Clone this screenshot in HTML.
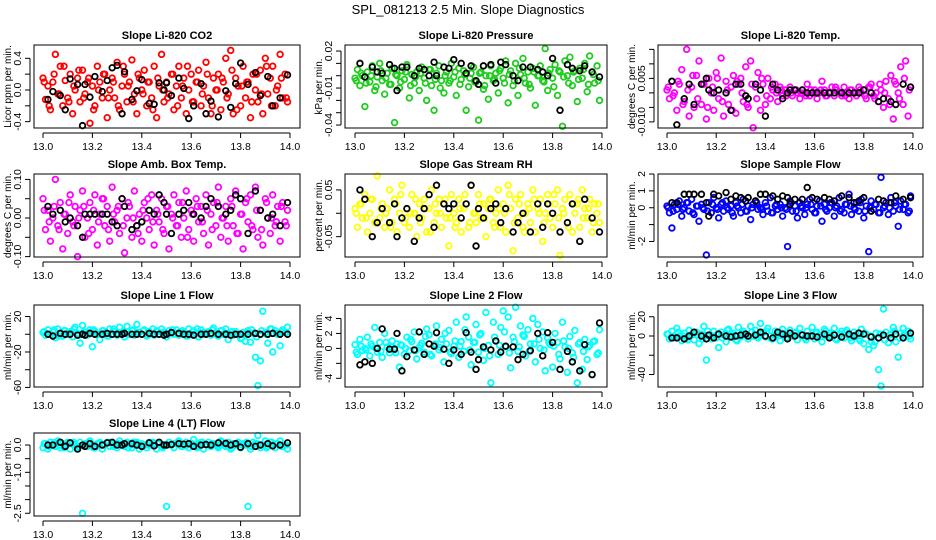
<!DOCTYPE html>
<html><head><meta charset="utf-8"><style>
html,body{margin:0;padding:0;background:#fff;}
svg{display:block;font-family:"Liberation Sans",Arial,sans-serif;}
</style></head><body>
<svg id="fig" width="936" height="540" viewBox="0 0 936 540" xmlns="http://www.w3.org/2000/svg">
<rect width="936" height="540" fill="#fff"/>
<text x="468" y="14" text-anchor="middle" font-size="13">SPL_081213  2.5 Min. Slope Diagnostics</text>
</svg>
<script>
// time values (hours) for colored and black series
const timesColor=[13.00,13.01,13.02,13.03,13.04,13.05,13.06,13.07,13.08,13.09,13.10,13.11,13.12,13.13,13.14,13.15,13.16,13.17,13.18,13.19,13.20,13.21,13.22,13.23,13.24,13.25,13.26,13.27,13.28,13.29,13.30,13.31,13.32,13.33,13.34,13.35,13.36,13.37,13.38,13.39,13.40,13.41,13.42,13.43,13.44,13.45,13.46,13.47,13.48,13.49,13.50,13.51,13.52,13.53,13.54,13.55,13.56,13.57,13.58,13.59,13.60,13.61,13.62,13.63,13.64,13.65,13.66,13.67,13.68,13.69,13.70,13.71,13.72,13.73,13.74,13.75,13.76,13.77,13.78,13.79,13.80,13.81,13.82,13.83,13.84,13.85,13.86,13.87,13.88,13.89,13.90,13.91,13.92,13.93,13.94,13.95,13.96,13.97,13.98,13.99];
const timesColor2=[13.005,13.025,13.045,13.065,13.085,13.105,13.125,13.145,13.165,13.185,13.205,13.225,13.245,13.265,13.285,13.305,13.325,13.345,13.365,13.385,13.405,13.425,13.445,13.465,13.485,13.505,13.525,13.545,13.565,13.585,13.605,13.625,13.645,13.665,13.685,13.705,13.725,13.745,13.765,13.785,13.805,13.825,13.845,13.865,13.885,13.905,13.925,13.945,13.965,13.985];
const timesBlack=[13.02,13.04,13.07,13.09,13.11,13.14,13.16,13.17,13.19,13.21,13.24,13.26,13.28,13.30,13.32,13.33,13.36,13.38,13.40,13.43,13.45,13.47,13.49,13.50,13.52,13.55,13.57,13.59,13.61,13.64,13.66,13.68,13.71,13.74,13.76,13.78,13.80,13.83,13.86,13.88,13.91,13.93,13.96,13.99];
const xTicks=[13.0,13.2,13.4,13.6,13.8,14.0];
const xTickLabels=["13.0","13.2","13.4","13.6","13.8","14.0"];

const co2Color=[0.15,-0.12,0.05,-0.25,0.1,0.45,-0.05,0.3,-0.2,0.12,-0.1,0.2,-0.3,0.0,0.15,-0.15,0.25,-0.05,0.1,-0.42,0.05,-0.2,0.3,0.1,-0.1,0.2,-0.35,0.0,0.15,-0.1,0.35,-0.25,0.05,0.2,-0.15,0.1,0.38,-0.05,-0.3,0.15,0.0,0.25,-0.2,0.1,-0.1,0.3,-0.35,0.05,0.45,-0.15,0.1,-0.05,0.2,-0.25,0.05,0.3,-0.1,0.15,-0.3,0.0,0.2,-0.15,0.1,0.25,-0.2,0.05,0.35,-0.1,-0.3,0.15,0.0,0.2,-0.25,0.1,0.4,-0.05,0.5,-0.3,0.15,0.05,-0.2,0.3,-0.1,0.1,-0.35,0.2,0.0,-0.15,0.25,-0.3,0.4,-0.05,0.15,0.3,-0.2,0.05,0.45,-0.1,0.2,-0.15];
const co2Color2=[0.1,-0.2,0.2,-0.05,0.3,-0.15,0.05,0.25,-0.1,0.15,-0.25,0.0,0.2,-0.1,0.1,-0.2,0.3,0.05,-0.15,0.2,-0.05,0.1,-0.25,0.15,0.0,-0.1,0.2,-0.2,0.05,0.3,-0.15,0.1,-0.05,0.2,-0.2,0.0,0.15,-0.1,0.25,-0.25,0.05,0.1,-0.15,0.2,-0.05,0.3,-0.2,0.0,0.15,-0.1];
const co2Black=[-0.12,-0.02,-0.07,-0.25,0.14,0.07,-0.45,0.07,-0.09,0.17,-0.02,0.12,0.28,0.31,-0.3,0.23,-0.12,-0.01,0.13,-0.17,-0.18,0.09,0.0,0.09,-0.07,0.15,0.02,-0.36,-0.2,0.08,-0.3,-0.14,-0.34,-0.01,-0.22,0.08,0.34,0.07,0.22,-0.07,0.17,-0.2,-0.1,0.19];
const presColor=[-0.002,0.005,-0.008,0.0,-0.025,0.003,-0.005,0.008,-0.012,-0.001,0.01,-0.004,-0.015,0.002,-0.007,0.006,-0.038,0.0,-0.01,0.004,-0.003,0.009,-0.018,0.001,-0.006,0.003,-0.012,0.007,-0.002,-0.02,0.005,-0.008,-0.028,0.002,0.008,-0.004,-0.014,0.003,-0.006,0.01,-0.001,-0.016,0.006,-0.003,0.004,-0.028,-0.009,0.002,0.007,-0.005,-0.036,0.003,-0.011,0.0,-0.019,0.008,-0.004,0.002,-0.014,0.006,-0.002,0.012,-0.022,0.004,-0.008,0.01,-0.016,0.001,0.014,-0.006,0.003,-0.01,0.006,-0.024,0.0,0.008,-0.004,0.022,-0.012,0.005,-0.002,0.009,-0.016,0.003,-0.041,0.012,0.0,0.015,-0.008,0.004,-0.021,0.006,-0.002,0.01,-0.013,0.016,0.003,-0.006,0.008,-0.02];
const presColor2=[-0.004,0.002,-0.006,0.0,-0.009,0.004,-0.002,-0.007,0.001,-0.005,0.003,-0.008,-0.001,0.002,-0.006,0.005,-0.003,-0.01,0.0,-0.004,0.003,-0.007,0.001,-0.002,-0.005,0.002,-0.008,0.0,-0.003,0.004,-0.006,0.001,-0.004,0.006,-0.002,-0.007,0.003,0.0,-0.005,0.002,-0.009,0.004,-0.001,-0.006,0.003,-0.003,0.005,-0.007,0.001,-0.004];
const presBlack=[0.01,-0.001,0.007,0.003,0.002,0.009,0.006,-0.012,0.007,0.007,0.0,0.006,0.005,0.0,0.011,0.0,0.007,0.006,0.013,0.01,0.002,0.008,-0.004,-0.007,0.008,0.009,-0.006,0.011,0.009,0.0,-0.004,0.007,0.007,0.005,0.003,0.0,0.014,-0.028,0.009,0.006,0.004,0.008,0.003,-0.001];
const tempColor=[0.001,-0.002,0.004,0.0,-0.006,0.003,0.008,-0.003,0.015,-0.008,0.002,-0.005,0.006,0.011,-0.004,0.003,-0.009,0.005,0.0,-0.006,0.007,-0.002,0.012,-0.008,0.004,-0.004,0.002,0.006,-0.007,0.003,0.005,-0.003,0.009,-0.005,0.011,-0.012,0.002,0.007,-0.006,0.003,-0.004,0.005,-0.002,0.001,0.003,-0.003,0.002,-0.001,0.001,0.0,0.002,-0.001,0.001,0.0,-0.002,0.001,0.0,0.003,-0.001,0.0,0.001,-0.002,0.0,0.004,0.001,-0.001,0.0,0.002,-0.001,0.001,0.0,-0.001,0.002,0.0,-0.002,0.001,0.0,-0.001,0.002,0.0,0.001,-0.002,0.002,0.003,-0.001,0.0,-0.003,0.001,-0.005,0.004,-0.002,0.006,-0.009,0.003,0.0,0.009,-0.004,0.011,-0.008,0.002];
const tempColor2=[0.002,-0.001,0.004,-0.004,0.001,0.006,-0.002,0.003,-0.005,0.002,0.005,-0.003,0.001,-0.006,0.004,0.0,-0.004,0.003,-0.002,0.005,-0.001,0.002,0.0,0.001,-0.001,0.0,0.001,0.0,-0.001,0.001,0.0,0.001,-0.001,0.0,0.002,0.0,-0.001,0.001,0.0,0.001,-0.001,0.002,-0.002,0.003,0.0,-0.004,0.004,-0.002,0.005,0.001];
const tempBlack=[0.004,-0.011,-0.002,0.003,-0.004,0.003,0.005,0.001,0.0,0.001,0.0,-0.006,0.003,0.003,-0.001,-0.002,0.003,0.001,-0.008,0.003,0.001,-0.002,0.0,0.001,0.001,0.001,0.0,0.0,0.0,0.0,0.0,0.0,0.0,0.0,0.0,0.0,0.001,0.0,-0.003,-0.002,-0.003,-0.004,0.003,0.002];
const ambColor=[0.05,-0.03,0.02,-0.06,0.0,0.10,-0.02,0.04,-0.08,0.01,-0.04,0.06,-0.01,0.03,-0.10,0.02,0.07,-0.05,0.0,0.04,-0.03,0.06,-0.07,0.01,0.05,-0.02,0.03,-0.06,0.08,-0.01,0.02,-0.04,0.05,-0.09,0.0,0.03,-0.05,0.07,-0.02,0.01,-0.06,0.04,0.0,-0.03,0.06,-0.07,0.02,-0.01,0.05,-0.04,0.03,-0.08,0.01,0.06,-0.02,0.04,-0.05,0.0,0.07,-0.03,0.02,-0.06,0.05,-0.01,0.03,-0.04,0.06,-0.07,0.01,0.04,-0.02,0.08,-0.05,0.0,0.03,-0.06,0.05,-0.02,0.07,-0.04,0.01,-0.08,0.04,-0.01,0.06,-0.03,0.08,-0.05,0.02,-0.07,0.05,0.0,-0.04,0.06,-0.02,0.03,-0.06,0.04,-0.01,0.02];
const ambColor2=[0.02,-0.01,0.03,-0.03,0.01,0.04,-0.02,0.0,0.03,-0.04,0.02,-0.01,0.05,-0.03,0.01,0.03,-0.02,0.04,0.0,-0.04,0.02,0.05,-0.01,0.01,-0.03,0.03,0.0,-0.02,0.04,-0.05,0.01,0.03,-0.01,0.02,-0.03,0.04,0.0,-0.02,0.03,-0.04,0.01,0.05,-0.02,0.02,-0.03,0.04,0.0,-0.01,0.03,-0.02];
const ambBlack=[0.03,0.01,0.02,-0.01,0.0,-0.02,-0.05,0.01,0.01,0.01,0.01,0.01,-0.01,-0.02,0.05,0.03,-0.03,-0.02,-0.01,0.02,0.01,0.06,0.04,0.01,-0.04,0.01,0.02,0.04,0.01,0.0,0.03,0.05,0.03,0.01,0.02,0.06,0.05,-0.04,0.07,0.02,0.0,0.01,-0.02,0.04];
const rhColor=[0.01,-0.03,0.02,-0.01,0.04,-0.04,0.0,0.03,-0.02,0.08,-0.01,0.02,-0.03,0.01,0.05,-0.02,0.03,-0.04,0.0,0.06,-0.02,0.01,-0.03,0.04,0.0,-0.05,0.02,-0.01,0.03,-0.04,0.01,0.05,-0.02,0.0,0.03,-0.03,0.02,-0.01,-0.07,0.04,0.0,-0.02,0.03,-0.04,0.01,0.02,-0.03,0.06,0.0,-0.02,0.04,-0.01,0.02,-0.05,0.01,0.03,-0.02,0.0,0.05,-0.03,0.02,-0.04,0.06,0.01,-0.08,0.03,-0.01,0.04,-0.03,0.0,0.02,-0.02,0.05,-0.04,0.01,0.03,-0.06,0.0,0.04,-0.01,-0.03,0.02,0.05,-0.09,0.01,0.03,-0.02,0.04,-0.04,0.0,0.02,-0.03,0.05,0.01,-0.01,0.03,-0.04,0.02,0.0,-0.02];
const rhColor2=[0.0,0.02,-0.01,0.03,-0.02,0.01,0.0,-0.03,0.02,0.04,-0.01,0.0,0.03,-0.02,0.01,-0.04,0.02,0.0,0.03,-0.01,-0.03,0.01,0.04,-0.02,0.0,0.02,-0.01,0.03,-0.03,0.01,0.0,0.04,-0.02,0.02,-0.04,0.01,0.03,0.0,-0.02,0.02,0.04,-0.01,0.0,-0.03,0.02,0.03,-0.01,0.01,-0.02,0.02];
const rhBlack=[0.05,0.03,-0.05,-0.02,0.01,-0.02,0.02,-0.05,-0.01,0.01,-0.06,-0.01,0.01,0.04,-0.03,0.06,0.02,0.01,0.02,-0.01,0.02,0.06,-0.07,0.01,-0.01,0.01,0.02,-0.02,0.01,-0.04,-0.02,0.0,-0.04,0.02,-0.03,0.02,0.0,-0.04,-0.02,0.02,-0.06,0.03,-0.01,-0.04];
const sampleColor=[0.1,-0.3,-1.2,0.2,-0.1,0.4,-0.5,0.0,0.3,-0.2,0.5,-0.4,0.1,-0.8,0.2,-0.1,-2.8,0.3,-0.3,0.6,0.0,-0.6,0.2,-0.2,0.4,-0.1,0.1,-0.5,0.3,0.0,-0.3,0.5,-0.2,0.1,-0.7,0.2,0.4,-0.1,0.0,-0.4,0.3,-0.2,0.6,-0.3,0.1,-0.1,0.2,-0.5,0.0,-2.3,0.4,-0.2,0.1,-0.6,0.3,0.0,-0.4,0.2,0.5,-0.1,-0.3,0.1,0.4,-0.8,0.2,-0.2,0.0,0.3,-0.5,0.1,0.6,-0.1,-0.3,0.2,0.8,-0.4,0.0,0.3,-0.2,0.5,-0.6,0.1,-2.6,0.4,-0.1,0.2,-0.3,1.8,0.0,0.3,-0.4,0.6,-0.2,0.1,-1.1,0.4,-0.1,0.2,-0.3,0.7];
const sampleColor2=[0.0,-0.2,0.2,-0.1,0.3,-0.3,0.1,0.0,-0.2,0.2,-0.1,0.3,0.0,-0.3,0.1,0.2,-0.2,0.0,0.3,-0.1,0.1,-0.3,0.2,0.0,-0.1,0.3,-0.2,0.1,0.0,0.2,-0.3,0.1,-0.1,0.3,0.0,-0.2,0.2,0.1,-0.1,0.3,-0.2,0.0,0.2,-0.3,0.1,0.0,0.3,-0.1,0.2,-0.2];
const sampleBlack=[0.3,0.3,0.8,0.8,0.8,0.8,0.3,-0.5,0.8,0.7,0.9,0.5,0.7,0.6,0.4,0.6,0.4,0.8,0.8,0.7,0.5,0.7,0.6,0.2,0.5,0.5,1.2,0.6,0.5,0.6,0.5,0.4,0.7,0.6,0.3,0.4,0.6,-0.2,0.5,0.4,0.3,0.7,0.5,0.6];
const line1Color=[2,-1,5,0,3,-4,6,1,-2,4,0,3,-3,8,1,-10,10,2,-1,5,-14,3,0,-6,4,1,-2,6,0,3,-1,8,2,-3,9,0,4,-1,11,2,0,5,-2,3,1,-1,4,0,6,2,-3,4,1,0,5,-1,3,2,-2,6,0,4,1,-3,5,2,0,3,-1,7,1,-2,4,0,6,-6,2,-1,3,0,-5,2,-8,4,-9,1,-26,-58,-30,26,2,-10,6,-20,4,0,-13,5,2,8];
const line1Color2=[3,0,5,-2,4,1,6,-1,3,2,5,0,4,-2,6,1,3,0,5,2,4,-1,6,3,2,0,5,1,4,-2,3,6,0,2,5,-1,4,1,3,0,-4,2,5,-3,4,0,6,1,3,2];
const line1Black=[0,-2,1,0,0,-1,0,-1,1,0,0,1,0,0,0,1,0,0,0,1,0,0,-1,0,2,1,0,0,-1,0,0,1,0,0,-1,0,0,0,1,0,0,1,0,0];
const line2Color=[0.5,-0.8,1.2,-0.3,0.0,1.5,-1.0,0.3,2.8,-0.5,0.8,-1.2,2.0,0.2,-0.6,1.0,-0.2,0.6,-2.5,0.4,-0.8,1.5,-0.3,0.9,2.2,-1.4,0.1,0.7,-0.5,2.6,1.8,-1.0,0.4,3.0,-0.2,1.2,-1.8,0.6,2.4,-0.7,0.3,3.5,-1.2,0.9,-0.4,4.2,1.5,-2.2,0.8,3.2,-0.5,2.0,-1.6,4.8,0.4,-4.6,3.5,1.0,-0.8,2.8,5.0,0.2,4.2,-2.6,1.5,5.5,-0.4,3.0,1.8,-1.0,2.5,0.6,4.0,-1.8,3.2,0.0,2.2,-3.0,1.4,0.5,-2.5,2.0,0.8,-1.4,3.5,0.2,-3.2,1.6,-0.6,2.4,-4.6,0.8,-2.8,1.2,-1.5,0.4,-3.5,1.0,-0.8,2.5];
const line2Color2=[-0.5,0.3,-0.2,0.6,0.0,-0.4,0.8,0.2,-0.6,0.5,0.0,1.2,-0.3,0.4,1.6,-0.8,0.6,0.1,2.0,-0.5,1.0,0.3,2.5,-0.2,0.8,1.8,0.0,-1.0,1.5,0.4,2.2,-0.6,0.9,0.2,1.6,-0.4,0.6,1.2,-0.2,0.8,0.3,-0.8,1.0,0.0,-1.2,0.6,-0.4,0.2,0.9,-0.6];
const line2Black=[-2.2,-1.8,-2.0,0.0,2.6,-0.1,-0.1,2.0,-3.0,-1.1,-0.2,2.2,-0.8,0.6,0.3,2.1,-0.1,-2.0,-0.2,-0.8,2.1,-0.5,-2.8,-1.5,0.2,-0.2,1.0,-0.5,0.3,0.2,-1.5,-0.8,-0.3,2.0,-1.0,2.1,0.8,-2.8,-0.4,-1.8,-3.0,0.5,-3.5,3.4];
const line3Color=[2,-3,5,-1,8,0,-5,3,-2,6,1,-4,4,-8,2,10,-25,0,-3,5,-2,-12,4,1,-6,7,0,3,-4,9,-1,5,2,-3,10,0,6,-2,13,4,-1,8,0,-3,5,2,-5,7,1,-2,6,0,3,-4,8,1,-2,5,0,9,-3,4,1,-6,7,0,3,-1,8,-4,2,5,-2,6,0,-5,4,1,-3,7,-8,2,-14,-6,-10,3,-35,-52,28,4,-7,2,9,-6,-22,3,8,0,5,-3];
const line3Color2=[2,-2,4,0,-4,3,1,-3,5,0,2,-2,6,1,-5,3,0,4,-1,2,5,-3,1,3,-2,0,4,2,-4,1,3,-1,5,0,-3,2,4,-2,1,-5,3,0,-6,2,-4,1,5,-2,3,0];
const line3Black=[-2,-2,-3,0,4,0,-3,1,-2,2,0,-1,0,1,2,0,1,4,0,-2,4,2,-3,3,0,1,0,0,-1,2,-2,1,-1,2,0,3,2,-1,-2,1,-2,2,-2,3];
const line4Color=[-0.1,0.05,-0.15,0.1,0.0,-0.05,0.15,-0.1,0.05,0.0,0.1,-0.15,0.05,0.0,-0.1,0.1,-2.5,0.05,-0.05,0.15,0.0,-0.1,0.05,0.1,-0.15,0.0,0.1,-0.05,0.05,0.0,-0.1,0.15,0.0,-0.05,0.1,0.05,-0.1,0.0,0.1,-0.15,0.05,0.0,-0.1,0.1,0.0,0.05,-0.15,0.1,-0.05,0.0,-2.25,0.1,0.0,-0.1,0.05,0.15,-0.05,0.0,0.1,-0.1,0.0,0.2,-0.05,0.05,0.1,-0.15,0.0,0.1,-0.05,0.05,0.0,-0.1,0.15,0.0,-0.05,0.1,-0.15,0.05,0.0,0.1,-0.1,0.05,0.0,-2.25,-0.15,0.1,0.05,0.35,-0.1,0.0,0.15,-0.05,0.1,0.0,-0.1,0.05,0.15,-0.05,0.0,-0.15];
const line4Color2=[0.05,-0.05,0.1,0.0,-0.1,0.05,0.1,-0.05,0.0,0.1,-0.1,0.05,0.0,0.1,-0.05,0.05,0.0,-0.1,0.1,0.05,-0.05,0.0,0.1,0.05,-0.1,0.0,0.05,0.1,-0.05,0.0,0.05,-0.1,0.1,0.0,0.05,-0.05,0.1,0.0,-0.1,0.05,0.0,0.1,-0.05,0.05,0.0,-0.1,0.1,0.05,-0.05,0.0];
const line4Black=[0.0,0.0,0.1,-0.05,0.08,-0.15,0.0,-0.05,0.05,-0.05,0.0,0.08,0.1,0.0,0.0,0.05,0.05,0.0,-0.05,0.08,-0.03,0.1,0.0,0.0,0.02,0.05,0.03,0.05,-0.05,0.0,0.02,0.0,0.08,0.06,0.0,0.05,-0.08,0.05,-0.05,0.0,0.05,-0.03,0.0,0.08];

const co2Ticks=[0.4,0.2,0.0,-0.2,-0.4], co2Labels=["0.4","","0.0","","-0.4"];
const presTicks=[0.02,0.01,0.0,-0.01,-0.02,-0.03,-0.04], presLabels=["0.02","","","-0.01","","","-0.04"];
const tempTicks=[0.015,0.01,0.005,0.0,-0.005,-0.01], tempLabels=["","","0.005","","","-0.010"];
const ambTicks=[0.1,0.05,0.0,-0.05,-0.1], ambLabels=["0.10","","0.00","","-0.10"];
const rhTicks=[0.05,0.0,-0.05], rhLabels=["0.05","","-0.05"];
const sampleTicks=[2,1,0,-1,-2], sampleLabels=["2","1","0","","-2"];
const line1Ticks=[20,0,-20,-40,-60], line1Labels=["20","","-20","","-60"];
const line2Ticks=[4,2,0,-2,-4], line2Labels=["4","2","0","","-4"];
const line3Ticks=[20,0,-20,-40], line3Labels=["20","0","","-40"];
const line4Ticks=[0,-0.5,-1,-1.5,-2,-2.5], line4Labels=["0.0","","-1.0","","","-2.5"];

// layout (not data)
const cols=[{l:34,r:300,x0:43,x1:290},{l:345,r:607,x0:355,x1:602},{l:658,r:923,x0:667,x1:913}];
const rows=[{t:45,b:128},{t:174,b:257},{t:305,b:387},{t:433,b:516}];
const panels=[
 {key:"co2",title:"Slope Li-820 CO2",ylab:"Licor ppm per min.",c:0,r:0,ymin:-0.48,ymax:0.568,col:"#ff0000",col2:co2Color,col3:co2Color2,blk:co2Black,ticks:co2Ticks,labels:co2Labels},
 {key:"pressure",title:"Slope Li-820 Pressure",ylab:"kPa per min.",c:1,r:0,ymin:-0.0424,ymax:0.0249,col:"#1fcc1f",col2:presColor,col3:presColor2,blk:presBlack,ticks:presTicks,labels:presLabels},
 {key:"li820-temp",title:"Slope Li-820 Temp.",ylab:"degrees C per min.",c:2,r:0,ymin:-0.0121,ymax:0.0165,col:"#ff00ff",col2:tempColor,col3:tempColor2,blk:tempBlack,ticks:tempTicks,labels:tempLabels},
 {key:"amb-box-temp",title:"Slope Amb. Box Temp.",ylab:"degrees C per min.",c:0,r:1,ymin:-0.101,ymax:0.114,col:"#ff00ff",col2:ambColor,col3:ambColor2,blk:ambBlack,ticks:ambTicks,labels:ambLabels},
 {key:"gas-rh",title:"Slope Gas Stream RH",ylab:"percent per min.",c:1,r:1,ymin:-0.0935,ymax:0.084,col:"#ffff00",col2:rhColor,col3:rhColor2,blk:rhBlack,ticks:rhTicks,labels:rhLabels},
 {key:"sample-flow",title:"Slope Sample Flow",ylab:"ml/min per min.",c:2,r:1,ymin:-2.92,ymax:2.0,col:"#0000ff",col2:sampleColor,col3:sampleColor2,blk:sampleBlack,ticks:sampleTicks,labels:sampleLabels},
 {key:"line1-flow",title:"Slope Line 1 Flow",ylab:"ml/min per min.",c:0,r:2,ymin:-59.5,ymax:33,col:"#00ffff",col2:line1Color,col3:line1Color2,blk:line1Black,ticks:line1Ticks,labels:line1Labels},
 {key:"line2-flow",title:"Slope Line 2 Flow",ylab:"ml/min per min.",c:1,r:2,ymin:-5.16,ymax:5.8,col:"#00ffff",col2:line2Color,col3:line2Color2,blk:line2Black,ticks:line2Ticks,labels:line2Labels},
 {key:"line3-flow",title:"Slope Line 3 Flow",ylab:"ml/min per min.",c:2,r:2,ymin:-53,ymax:32.2,col:"#00ffff",col2:line3Color,col3:line3Color2,blk:line3Black,ticks:line3Ticks,labels:line3Labels},
 {key:"line4-flow",title:"Slope Line 4 (LT) Flow",ylab:"ml/min per min.",c:0,r:3,ymin:-2.6,ymax:0.44,col:"#00ffff",col2:line4Color,col3:line4Color2,blk:line4Black,ticks:line4Ticks,labels:line4Labels}
];
const NS="http://www.w3.org/2000/svg";
const svg=document.getElementById("fig");
function mk(tag,attrs,parent){const e=document.createElementNS(NS,tag);for(const k in attrs)e.setAttribute(k,attrs[k]);parent.appendChild(e);return e;}
panels.forEach(p=>{
  const C=cols[p.c],R=rows[p.r];
  const xs=v=>C.x0+(v-13)*(C.x1-C.x0);
  const ys=v=>R.b-(v-p.ymin)/(p.ymax-p.ymin)*(R.b-R.t);
  const g=mk("g",{},svg);
  
  
  const t=mk("text",{x:(C.l+C.r)/2,y:R.t-6,"text-anchor":"middle","font-size":"11","font-weight":"bold"},g);
  t.textContent=p.title;
  
  
  const pts=mk("g",{fill:"none","stroke-width":"1.8"},g);
  
  
  p.col2.forEach((v,i)=>{
    const c=mk("circle",{cx:xs(timesColor[i]),cy:ys(v),r:2.8,stroke:p.col},pts);
    
    
  });
  p.col3.forEach((v,i)=>{
    const c=mk("circle",{cx:xs(timesColor2[i]),cy:ys(v),r:2.8,stroke:p.col},pts);
    
    
  });
  p.blk.forEach((v,i)=>{
    const c=mk("circle",{cx:xs(timesBlack[i]),cy:ys(v),r:2.8,stroke:"#000"},pts);
    
    
  });
  const box=mk("rect",{x:C.l,y:R.t,width:C.r-C.l,height:R.b-R.t,fill:"none",stroke:"#000","stroke-width":"1"},g);
  
  
  const xa=mk("g",{},g);
  
  
  mk("line",{x1:xs(xTicks[0]),x2:xs(xTicks[xTicks.length-1]),y1:R.b+5,y2:R.b+5,stroke:"#000"},xa);
  xTicks.forEach((v,i)=>{
    mk("line",{x1:xs(v),x2:xs(v),y1:R.b+5,y2:R.b+10,stroke:"#000"},xa);
    const tl=mk("text",{x:xs(v),y:R.b+22,"text-anchor":"middle","font-size":"10.5"},xa);
    tl.textContent=xTickLabels[i];
    
    
  });
  const ya=mk("g",{},g);
  
  
  const ax=C.l-4;
  mk("line",{x1:ax,x2:ax,y1:ys(p.ticks[0]),y2:ys(p.ticks[p.ticks.length-1]),stroke:"#000"},ya);
  p.ticks.forEach((v,i)=>{
    mk("line",{x1:ax-5,x2:ax,y1:ys(v),y2:ys(v),stroke:"#000"},ya);
    if(p.labels[i]){
      const tl=mk("text",{x:0,y:0,"text-anchor":"middle","font-size":"10.5",transform:`translate(${ax-9},${ys(v)}) rotate(-90)`},ya);
      tl.textContent=p.labels[i];
      
      
    }
  });
  const yl=mk("text",{x:0,y:0,"text-anchor":"middle","font-size":"10",transform:`translate(${C.l-23},${(R.t+R.b)/2}) rotate(-90)`},g);
  yl.textContent=p.ylab;
  
  
});
</script>
</body></html>
